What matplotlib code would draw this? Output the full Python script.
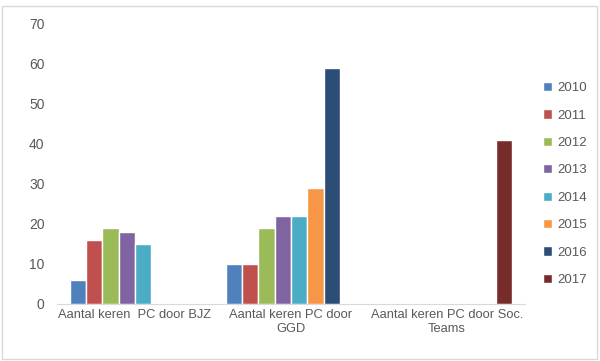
import numpy as np
import matplotlib
matplotlib.use("Agg")
import matplotlib.pyplot as plt
from matplotlib.patches import Rectangle

categories = ["Aantal keren  PC door BJZ", "Aantal keren PC door\nGGD", "Aantal keren PC door Soc.\nTeams"]
years = ["2010", "2011", "2012", "2013", "2014", "2015", "2016", "2017"]
nan = np.nan
v2010 = [6, 10, nan]
v2011 = [16, 10, nan]
v2012 = [19, 19, nan]
v2013 = [18, 22, nan]
v2014 = [15, 22, nan]
v2015 = [nan, 29, nan]
v2016 = [nan, 59, nan]
v2017 = [nan, nan, 41]
series = [v2010, v2011, v2012, v2013, v2014, v2015, v2016, v2017]
colors = ["#4F81BD", "#C0504D", "#9BBB59", "#8064A2", "#4BACC6", "#F79646", "#2C4D75", "#772C2A"]

plt.rcParams["font.family"] = ["Liberation Sans", "DejaVu Sans"]
text_col = "#595959"

fig = plt.figure(figsize=(6, 3.61), dpi=100)
fig.patches.append(Rectangle((0.003, 0.006), 0.992, 0.976, transform=fig.transFigure,
                             fill=False, edgecolor="#d9d9d9", linewidth=1))
ax = fig.add_axes([0.095, 0.158, 0.78, 0.777])

x = np.arange(len(categories))
n = len(series)
slot = 0.836 / n
for i, vals in enumerate(series):
    ax.bar(x - 0.418 + slot * (i + 0.5), vals, width=slot, color=colors[i],
           edgecolor="white", linewidth=1, label=years[i])

ax.set_xlim(-0.5, 2.5)
ax.set_ylim(0, 70)
ax.set_yticks(range(0, 71, 10))
ax.set_xticks(x)
ax.set_xticklabels(categories)
ax.tick_params(length=0, colors=text_col, labelsize=9.3)
ax.tick_params(axis="y", pad=9, labelsize=10)
for s in ["top", "right", "left"]:
    ax.spines[s].set_visible(False)
ax.spines["bottom"].set_color("#d9d9d9")

fig.legend(loc="upper left", bbox_to_anchor=(0.885, 0.806), frameon=False,
           handlelength=0.7, handleheight=0.7, handletextpad=0.4,
           labelspacing=1.15, fontsize=9.5, labelcolor=text_col)

fig.savefig("out.png", dpi=100)
